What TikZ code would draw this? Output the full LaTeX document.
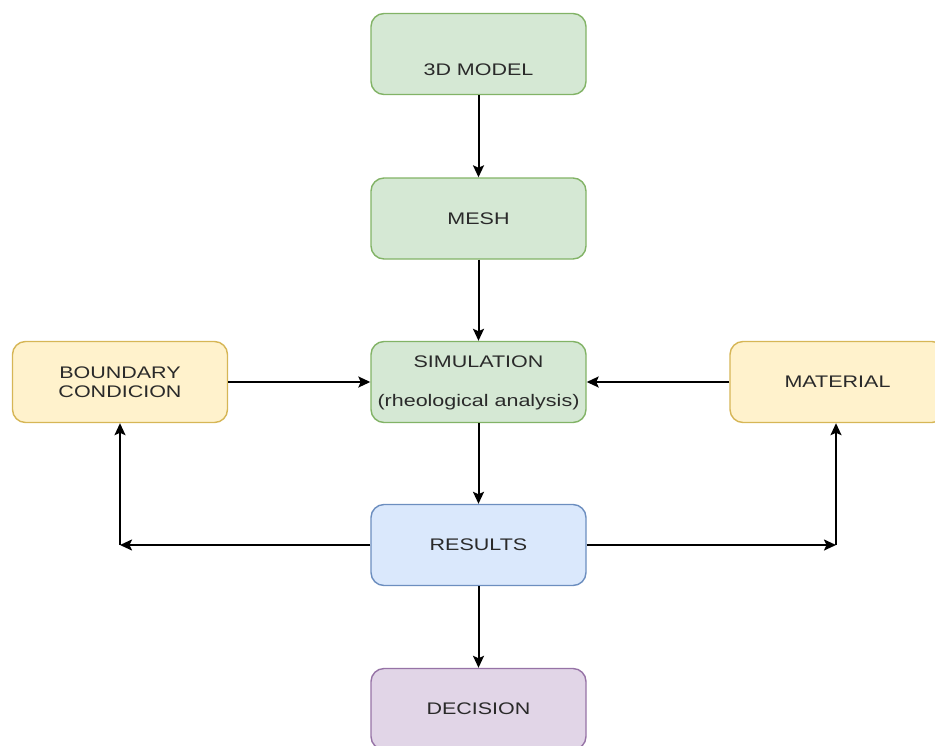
\documentclass[tikz,border=0pt]{standalone}
\usepackage{fontspec}
\setmainfont{Liberation Sans}
\usetikzlibrary{arrows.meta}
\definecolor{gfill}{HTML}{D5E8D4}
\definecolor{gline}{HTML}{82B366}
\definecolor{yfill}{HTML}{FFF2CC}
\definecolor{yline}{HTML}{D6B656}
\definecolor{bfill}{HTML}{DAE8FC}
\definecolor{bline}{HTML}{6C8EBF}
\definecolor{pfill}{HTML}{E1D5E7}
\definecolor{pline}{HTML}{9673A6}
\definecolor{txt}{HTML}{2A2A2A}
\newcommand{\sq}[1]{\scalebox{1}[0.78]{#1}}
\begin{document}
\begin{tikzpicture}[x=1pt,y=-1pt,
  box/.style={draw, rounded corners=13pt, line width=1.4pt, minimum width=215pt, minimum height=81pt, inner sep=0pt},
  green/.style={box, fill=gfill, draw=gline},
  yellow/.style={box, fill=yfill, draw=yline},
  blue/.style={box, fill=bfill, draw=bline},
  purple/.style={box, fill=pfill, draw=pline},
  lbl/.style={text=txt, font=\fontsize{21.5}{23}\selectfont, inner sep=0pt, align=center},
  arr/.style={-{Stealth[length=12pt,width=11pt,inset=2.5pt]}, line width=2pt, black}]
\useasboundingbox (0,0) rectangle (935,745);
\node[green] (m3d) at (478.5,54) {};
\node[lbl] (m3dt) at (478.5,70) {\sq{3D MODEL}};
\node[green, lbl] (mesh) at (478.5,218.5) {\sq{MESH}};
\node[green] (sim) at (478.5,382) {};
\node[lbl] (simt1) at (478.5,362) {\sq{SIMULATION}};
\node[lbl] (simt2) at (478.5,402) {\sq{(rheological analysis)}};
\node[yellow, lbl] (bc) at (120,382) {\sq{BOUNDARY}\\[-4pt]\sq{CONDICION}};
\node[yellow, lbl] (mat) at (837.5,382) {\sq{MATERIAL}};
\node[blue, lbl] (res) at (478.5,545) {\sq{RESULTS}};
\node[purple, lbl] (dec) at (478.5,709) {\sq{DECISION}};
\coordinate (bl) at (120,545);
\coordinate (br) at (836,545);
\draw[arr] (m3d) -- (mesh);
\draw[arr] (mesh) -- (sim);
\draw[arr] (sim) -- (res);
\draw[arr] (res) -- (dec);
\draw[arr] (bc) -- (sim);
\draw[arr] (mat) -- (sim);
\draw[arr] (res.west) -- (bl);
\draw[arr] (bl) -- (bc.south -| bl);
\draw[arr] (res.east) -- (br);
\draw[arr] (br) -- (mat.south -| br);
\end{tikzpicture}
\end{document}
